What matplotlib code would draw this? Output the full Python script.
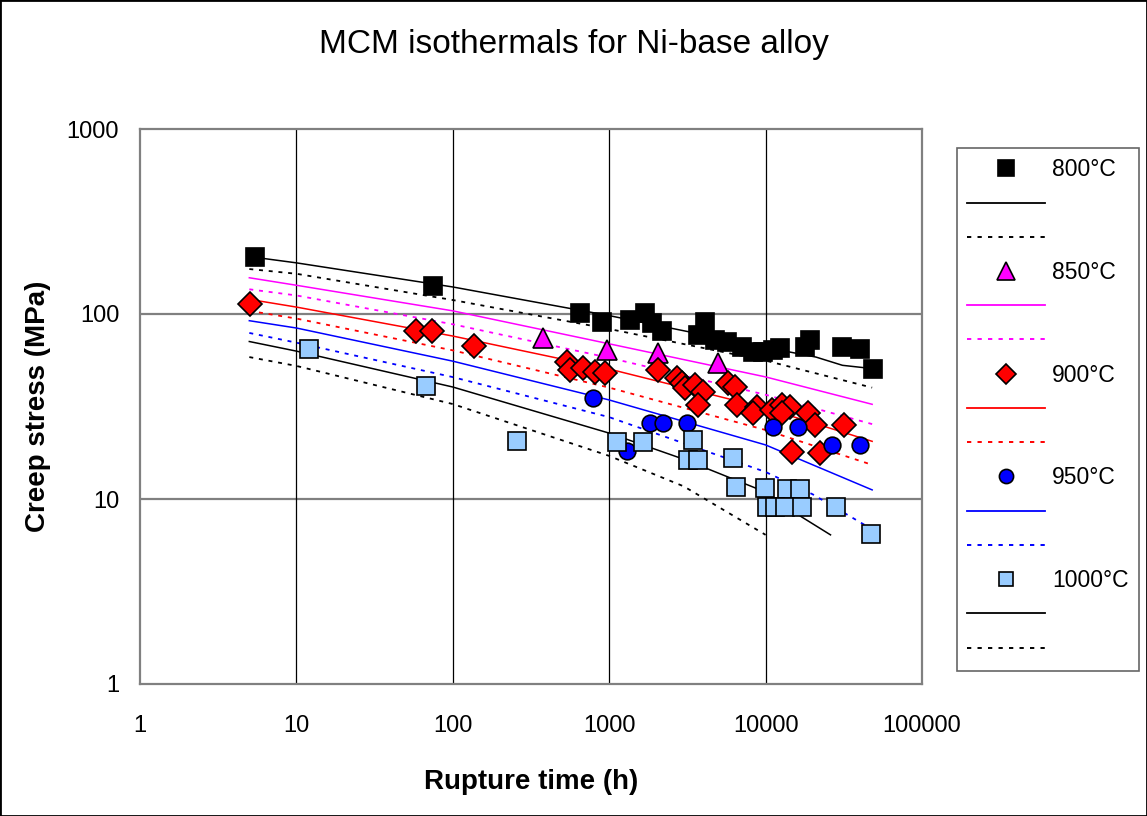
import matplotlib.pyplot as plt
from matplotlib.lines import Line2D
from matplotlib.patches import Rectangle

plt.rcParams['font.family'] = ['Liberation Sans', 'DejaVu Sans']

# measured creep rupture points (time h, stress MPa)
t800 = [5.4, 75, 650, 900, 1360, 1690, 1880, 2180, 3700, 4100, 4750, 5660,
        7070, 8300, 9600, 11150, 12400, 17900, 19200, 30800, 40200, 48600]
s800 = [203, 142, 101, 90.5, 92.8, 101, 89.4, 81, 77, 90.5, 72.3, 70.6,
        66.3, 62.3, 62.3, 64, 65.5, 66.3, 72.3, 66.3, 64.7, 50.4]

t850 = [377, 968, 2050, 4960]
s850 = [74.2, 63.9, 61.5, 54.4]

t900 = [5.05, 58, 74, 137, 537, 561, 680, 811, 940, 2050, 2720, 2920, 3060,
        3540, 3980, 3700, 5750, 6370, 6560, 8810, 8300, 11000, 12700, 14300,
        12700, 18700, 20700, 31700, 14750, 22300]
s900 = [113, 81, 81, 67.1, 55, 49.8, 51, 48.6, 48, 49.8, 45.1, 42.4, 39.8,
        41.3, 37.9, 32.2, 42.4, 40.3, 32.2, 31.4, 29.1, 30.3, 32.2, 31.4,
        29.1, 29.1, 25.1, 25.1, 17.9, 17.7]

t950 = [788, 1300, 1820, 2210, 3140, 11150, 16100, 26600, 40200]
s950 = [35.1, 18.2, 25.8, 25.8, 25.8, 24.5, 24.5, 19.6, 19.6]

t1000 = [12, 67, 257, 1120, 1640, 3440, 3190, 3700, 6190, 6470, 9910, 13700,
         16600, 10200, 11500, 13300, 17100, 28200, 47200]
s1000 = [64.7, 40.8, 20.6, 20.3, 20.3, 20.8, 16.2, 16.2, 16.7, 11.6, 11.5,
         11.3, 11.3, 9.05, 9.05, 9.05, 9.05, 9.05, 6.47]

# MCM isothermals (solid = fit, dotted = lower bound)
tc = [5, 10, 100, 1000, 10000, 48000]
fit800_t = [5.3, 10, 100, 1000, 10000, 21000, 31000, 45000]
fit800 = [203, 189, 140, 98, 66, 58.5, 52.8, 51]
low800 = [175, 165, 119, 83, 56, 40]
fit850 = [157, 143, 104, 69, 45.7, 32.5]
low850 = [136, 126, 88, 58, 36.6, 25.4]
fit900 = [120, 109, 76, 50.4, 31, 20.5]
low900 = [104, 94.5, 63.6, 40, 23.6, 15.3]
fit950 = [92, 84, 55.6, 34.3, 19.6, 11.2]
low950_t = [5, 10, 100, 1000, 10000, 20000, 46000]
low950 = [79, 70, 45.6, 27.7, 14.0, 10.6, 7.0]
fit1000_t = [5, 10, 100, 1000, 3000, 10000, 17000, 26000]
fit1000 = [71, 63, 40.3, 22.7, 16.4, 10.9, 8.0, 6.4]
low1000_t = [5, 10, 100, 1000, 3000, 10000]
low1000 = [58.5, 52.4, 32.6, 17.1, 11.7, 6.4]

DOT = (0, (2.2, 3.2))

fig = plt.figure(figsize=(11.47, 8.16), dpi=100)
ax = fig.add_axes([140 / 1147, 1 - 684 / 816, 782 / 1147, 555 / 816])

curves = [
    (fit800_t, fit800, tc, low800, 'black'),
    (tc, fit850, tc, low850, '#FF00FF'),
    (tc, fit900, tc, low900, '#FF0000'),
    (tc, fit950, low950_t, low950, '#0000FF'),
    (fit1000_t, fit1000, low1000_t, low1000, 'black'),
]
for ft, fv, lt, lv, c in curves:
    ax.plot(ft, fv, color=c, lw=1.1, zorder=2)
    ax.plot(lt, lv, color=c, lw=1.3, linestyle=DOT, zorder=2)

series = [
    (t800, s800, 's', 'black', 13, '800°C', 'black'),
    (t850, s850, '^', '#FF00FF', 14.5, '850°C', '#FF00FF'),
    (t900, s900, 'D', '#FF0000', 12, '900°C', '#FF0000'),
    (t950, s950, 'o', '#0000FF', 12, '950°C', '#0000FF'),
    (t1000, s1000, 's', '#99CCFF', 12.5, '1000°C', 'black'),
]
handles, labels = [], []
for t, s, m, fc, ms, lab, lc in series:
    ax.plot(t, s, linestyle='none', marker=m, markersize=ms, markerfacecolor=fc,
            markeredgecolor='black', markeredgewidth=1.2, zorder=3)
    handles.append(Line2D([], [], linestyle='none', marker=m, markersize=ms * 0.85,
                          markerfacecolor=fc, markeredgecolor='black', markeredgewidth=1.2))
    handles.append(Line2D([], [], color=lc, lw=1.3))
    handles.append(Line2D([], [], color=lc, lw=1.4, linestyle=DOT))
    labels += [lab, ' ', ' ']

ax.set_xscale('log')
ax.set_yscale('log')
ax.set_xlim(1, 100000)
ax.set_ylim(1, 1000)
ax.set_xticks([1, 10, 100, 1000, 10000, 100000])
ax.set_xticklabels(['1', '10', '100', '1000', '10000', '100000'])
ax.set_yticks([1, 10, 100, 1000])
ax.set_yticklabels(['1', '10', '100', '1000'])
ax.minorticks_off()
ax.tick_params(length=0, labelsize=17)
ax.tick_params(axis='x', pad=22)
ax.tick_params(axis='y', pad=15)

ax.grid(False)
for y in [10, 100]:
    ax.axhline(y, color='#808080', lw=1.6, zorder=1)
for x in [10, 100, 1000, 10000]:
    ax.axvline(x, color='black', lw=0.9, zorder=1)
for sp in ax.spines.values():
    sp.set_color('#808080')
    sp.set_linewidth(1.6)

fig.text(0.5, 1 - 45 / 816, 'MCM isothermals for Ni-base alloy', ha='center', va='center', fontsize=24)
fig.text(531 / 1147, 1 - 782 / 816, 'Rupture time (h)', ha='center', va='center',
         fontsize=20, fontweight='bold')
fig.text(38 / 1147, 1 - 406 / 816, 'Creep stress (MPa)', ha='center', va='center',
         fontsize=20, fontweight='bold', rotation=90)

leg = fig.legend(handles, labels, loc='upper left',
                 bbox_to_anchor=(957 / 1147, 1 - 148 / 816), bbox_transform=fig.transFigure,
                 prop={'size': 16.5}, frameon=True, fancybox=False,
                 edgecolor='#404040', handlelength=3.4, handletextpad=0.3,
                 labelspacing=0.49, borderpad=0.45, borderaxespad=0)
leg.get_frame().set_linewidth(1.2)

fig.patches.append(Rectangle((0, 0), 1, 1, transform=fig.transFigure, fill=False,
                             edgecolor='black', lw=2, zorder=10))

fig.savefig('out.png', dpi=100)
